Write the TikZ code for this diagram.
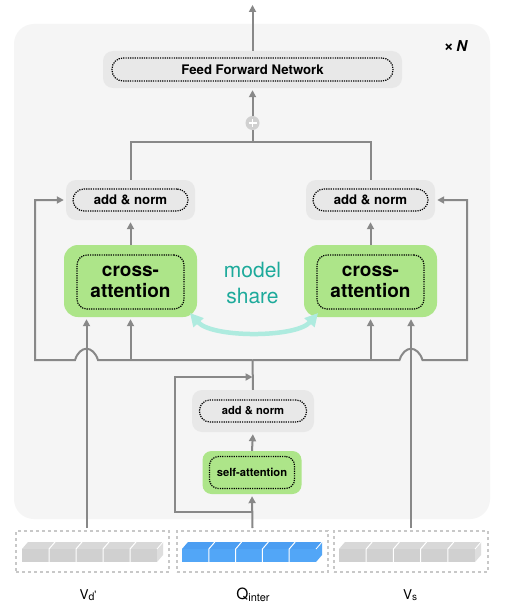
\documentclass[tikz,border=0pt]{standalone}
\usepackage{fontspec}
\setmainfont{TeX Gyre Heros}
\usetikzlibrary{arrows.meta}
\definecolor{panelc}{HTML}{F5F5F5}
\definecolor{boxgrey}{HTML}{E8E8E8}
\definecolor{lgreen}{HTML}{ADE589}
\definecolor{lineg}{HTML}{888888}
\definecolor{qblue}{HTML}{52A6F7}
\definecolor{qbluetop}{HTML}{4C9EF2}
\definecolor{mteal}{HTML}{1DAA9B}
\definecolor{cyanarr}{HTML}{AEEBDF}
\definecolor{cellg}{HTML}{D0D0D0}
\definecolor{cellgtop}{HTML}{D8D8D8}
\definecolor{cellgside}{HTML}{DEDEDE}
\definecolor{dashg}{HTML}{C8C8C8}
\newcommand\drawinbar[5]{% x0, x1, front, top, side
  \fill[#4] (#1,549) -- (#1+6,542) -- (#2+6,542) -- (#2,549) -- cycle;
  \fill[#5] (#2,549) -- (#2+6,542) -- (#2+6,555) -- (#2,562) -- cycle;
  \fill[#3] (#1,549) rectangle (#2,562);
  \pgfmathsetmacro\cw{(#2-#1)/5}
  \foreach \i in {1,...,4}{
    \draw[white,line width=1pt] (#1+\i*\cw,562) -- (#1+\i*\cw,549) -- (#1+\i*\cw+6,542);
  }
  \draw[white,line width=0.8pt] (#2,549) -- (#2+6,542);
}
\begin{document}
\begin{tikzpicture}[x=1pt,y=-1pt,
  ln/.style={draw=lineg,line width=2pt},
  arr/.style={ln,-{Triangle[length=7pt,width=7pt]},shorten >=2pt},
  gbox/.style={fill=boxgrey,rounded corners=10pt,inner sep=0pt},
  gnbox/.style={fill=lgreen,rounded corners=14pt,inner sep=0pt},
  dotbox/.style={draw=black,dash pattern=on 1.2pt off 1.1pt,line width=1.2pt,inner sep=0pt,text=black,align=center},
  inbox/.style={draw=dashg,dash pattern=on 3pt off 3pt,line width=1.4pt},
  lab/.style={anchor=base,inner sep=0pt}
]
\useasboundingbox (0,0) rectangle (508,610);
\fill[white] (0,0) rectangle (508,610);
\fill[panelc,rounded corners=20pt] (14,24) rectangle (490,519);

% x N
\node[lab,font=\bfseries\fontsize{15}{16}\selectfont] (xn) at (456,52) {{\fontsize{17}{16}\selectfont ×}\,\textit{N}};

% FFN
\node[gbox,minimum width=299pt,minimum height=37pt] (ffnO) at (252.5,69.5) {};
\node[dotbox,rounded corners=11pt,minimum width=281pt,minimum height=23pt,font=\bfseries\fontsize{13.2}{14}\selectfont] (ffn) at (252.5,69.5) {Feed Forward Network};

% plus
\node[circle,fill=cellg,minimum size=14pt,inner sep=0pt] (plus) at (252.5,123) {};
\draw[white,line width=1.6pt] ([xshift=-4pt]plus.center) -- ([xshift=4pt]plus.center);
\draw[white,line width=1.6pt] ([yshift=-4pt]plus.center) -- ([yshift=4pt]plus.center);

% add & norm (top)
\node[gbox,minimum width=129pt,minimum height=40pt] (an1O) at (130.5,200) {};
\node[dotbox,rounded corners=11pt,minimum width=115pt,minimum height=22pt,font=\bfseries\fontsize{13.2}{14}\selectfont] (an1) at (130.5,200) {add \& norm};
\node[gbox,minimum width=129pt,minimum height=40pt] (an2O) at (370.5,200) {};
\node[dotbox,rounded corners=11pt,minimum width=115pt,minimum height=22pt,font=\bfseries\fontsize{13.2}{14}\selectfont] (an2) at (370.5,200) {add \& norm};

% cross-attention
\node[gnbox,minimum width=133pt,minimum height=72pt] (ca1O) at (130.5,281) {};
\node[dotbox,rounded corners=10pt,minimum width=107pt,minimum height=54pt,font=\bfseries\fontsize{19}{21}\selectfont] (ca1) at (130.5,282) {cross-\\attention};
\node[gnbox,minimum width=133pt,minimum height=72pt] (ca2O) at (370.5,281) {};
\node[dotbox,rounded corners=10pt,minimum width=107pt,minimum height=54pt,font=\bfseries\fontsize{19}{21}\selectfont] (ca2) at (370.5,282) {cross-\\attention};

% model share
\node[text=mteal,font=\fontsize{21}{26}\selectfont,align=center] (ms) at (252.5,283) {model\\share};
\coordinate (sh1) at (190,313);
\coordinate (sh2) at (318,313);
\draw[cyanarr,line width=4.5pt,line cap=round,{Triangle[length=13pt,width=13pt]}-{Triangle[length=13pt,width=13pt]}] (sh1) .. controls (212,338) and (296,338) .. (sh2);

% small add & norm
\node[gbox,minimum width=122pt,minimum height=42pt] (an3O) at (253,411) {};
\node[dotbox,rounded corners=10.5pt,minimum width=107pt,minimum height=22pt,font=\bfseries\fontsize{11.2}{12}\selectfont] (an3) at (253,411) {add \& norm};

% self-attention
\node[gbox,fill=lgreen,rounded corners=9pt,minimum width=99pt,minimum height=43pt] (saO) at (252,472.5) {};
\node[dotbox,rounded corners=9pt,minimum width=85pt,minimum height=32pt,font=\bfseries\fontsize{11.2}{12}\selectfont] (sa) at (252,472.5) {self-attention};

% inputs
\node[inbox,minimum width=153pt,minimum height=41pt] (in1) at (92.5,551.5) {};
\node[inbox,minimum width=151pt,minimum height=41pt] (in2) at (252.5,551.5) {};
\node[inbox,minimum width=154pt,minimum height=41pt] (in3) at (411,551.5) {};
\drawinbar{22}{157}{cellg}{cellgtop}{cellgside}
\drawinbar{182}{316}{qblue}{qbluetop}{qblue}
\drawinbar{339}{475}{cellg}{cellgtop}{cellgside}

% labels
\node[lab,font=\fontsize{13.5}{14}\selectfont] (lvd) at (88,599) {V\raisebox{-1.2pt}{\fontsize{10.5}{10}\selectfont d}\raisebox{1pt}{\fontsize{10.5}{10}\selectfont\textquotesingle}};
\node[lab,font=\fontsize{15.5}{16}\selectfont] (lq) at (253,599) {Q\raisebox{-2pt}{\fontsize{11}{12}\selectfont inter}};
\node[lab,font=\fontsize{13.5}{14}\selectfont] (lvs) at (410,599) {V\raisebox{-1.2pt}{\fontsize{10}{10}\selectfont s}};

% coordinates
\coordinate (outtop) at (252.5,5);
\coordinate (topj) at (252.5,142);
\coordinate (mid) at (252.5,360);
\coordinate (mid2) at (252.5,377);
\coordinate (hl1) at (98,360);
\coordinate (hl0) at (75,360);
\coordinate (cl) at (35,360);
\coordinate (hr0) at (399.5,360);
\coordinate (hr1) at (422.5,360);
\coordinate (cr) at (467,360);
\coordinate (vd) at (86.5,528);
\coordinate (vs) at (411,528);
\coordinate (q) at (252.5,528);
\coordinate (qb) at (252.5,512);
\coordinate (ql) at (175,512);

% connectors
\draw[arr,shorten >=0pt] (ffnO.north) -- (outtop);
\draw[arr] (plus.north) -- (ffnO.south);
\draw[ln] (plus.south) -- (topj);
\draw[ln] (an1O.north) |- (topj) -| (an2O.north);
\draw[arr] (ca1O.north) -- (an1O.south);
\draw[arr] (ca2O.north) -- (an2O.south);
\draw[ln] (an3O.north) -- (mid);
\draw[arr] (mid) -- (hl1) .. controls +(-5,-15) and +(5,-15) .. (hl0) -- (cl) |- (an1O.west);
\draw[arr] (mid) -- (hr0) .. controls +(5,-15) and +(-5,-15) .. (hr1) -- (cr) |- (an2O.east);
\draw[arr] (ca1O.south |- mid) -- (ca1O.south);
\draw[arr] (ca2O.south |- mid) -- (ca2O.south);
\draw[arr] (vd) -- (vd |- ca1O.south);
\draw[arr] (vs) -- (vs |- ca2O.south);
\draw[arr] (saO.north) -- (an3O.south);
\draw[arr] (q) -- (saO.south);
\draw[arr,shorten >=0pt] (qb) -- (ql) |- (mid2);
\end{tikzpicture}
\end{document}
